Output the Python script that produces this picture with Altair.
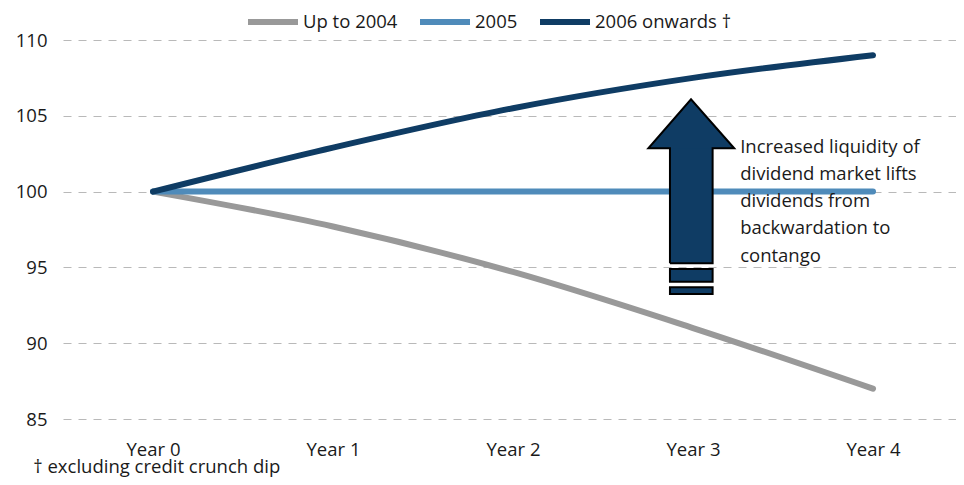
import json
import altair as alt
import pandas as pd

# ---- data ----
years = [0, 1, 2, 3, 4]
year_labels = ["Year 0", "Year 1", "Year 2", "Year 3", "Year 4"]
series_names = ["Up to 2004", "2005", "2006 onwards †"]
up_to_2004 = [100, 97.7, 94.7, 91.0, 87.0]
y2005 = [100, 100, 100, 100, 100]
onwards_2006 = [100, 102.9, 105.5, 107.5, 109.0]
colors = ["#999999", "#4f8bba", "#0f3c64"]
y_ticks = [85, 90, 95, 100, 105, 110]

# arrow annotation, in data units (x = year, y = index)
arrow_x = [2.872, 2.872, 2.752, 2.989, 3.229, 3.109, 3.109, 2.872]
arrow_y = [95.27, 102.86, 102.86, 106.09, 102.86, 102.86, 95.27, 95.27]
head_x = [2.752, 2.989, 3.229]
head_lo = [102.86, 102.86, 102.86]
head_hi = [102.86, 106.09, 102.86]
shaft_x = [2.872, 3.109]
shaft_y = [95.27, 102.90]
bar_x = [2.872, 3.109]
bar_lo = [94.06, 93.25]
bar_hi = [94.89, 93.69]
note_x = 3.262
note_y = 102.96
note_lines = ["Increased liquidity of", "dividend market lifts", "dividends from",
              "backwardation to", "contango"]
footnote = "† excluding credit crunch dip"

FONT = "Open Sans"
FS = 18.5
NAVY = "#0f3c64"
TXT = "#1a1a1a"

# ---- tables ----
rows = []
for name, vals in zip(series_names, [up_to_2004, y2005, onwards_2006]):
    for yr, v in zip(years, vals):
        rows.append({"year": yr, "value": v, "series": name})
df = pd.DataFrame(rows)

# the category spacing of the reference (180 px per year) runs slightly past the
# page edge, so the scale range is set wider than the clipped view
xscale = alt.Scale(domain=[-0.5, 4.5], range=[0, 900], nice=False, zero=False)
yscale = alt.Scale(domain=[85, 110], nice=False, zero=False)

lines = alt.Chart(df).mark_line(strokeWidth=6, strokeCap="round", strokeJoin="round",
                                interpolate="monotone").encode(
    x=alt.X("year:Q", scale=xscale,
            axis=alt.Axis(values=years, labelExpr=f"{json.dumps(year_labels)}[datum.value]",
                          grid=False, ticks=False, domain=False, title=None,
                          labelPadding=21, labelFontSize=FS, labelFont=FONT,
                          labelColor=TXT)),
    y=alt.Y("value:Q", scale=yscale,
            axis=alt.Axis(values=y_ticks, grid=True, gridDash=[8, 7], gridColor="#b9b9b9",
                          gridWidth=1.2, ticks=False, domain=False, title=None,
                          labelPadding=16, labelFontSize=FS, labelFont=FONT,
                          labelColor=TXT)),
    color=alt.Color("series:N",
                    scale=alt.Scale(domain=series_names, range=colors),
                    legend=alt.Legend(title=None, orient="none", direction="horizontal",
                                      legendX=182, legendY=-46, symbolType="stroke",
                                      symbolStrokeWidth=6, symbolSize=2500,
                                      labelFontSize=FS, labelFont=FONT, labelColor=TXT,
                                      labelOffset=2, columnPadding=10, padding=0)),
    detail="series:N",
)

shaft = alt.Chart(pd.DataFrame({"x": [shaft_x[0]], "x2": [shaft_x[1]],
                                "y": [shaft_y[0]], "y2": [shaft_y[1]]})).mark_rect(
    color=NAVY).encode(x=alt.X("x:Q", scale=xscale), x2="x2:Q",
                       y=alt.Y("y:Q", scale=yscale), y2="y2:Q")

head = alt.Chart(pd.DataFrame({"x": head_x, "lo": head_lo, "hi": head_hi})).mark_area(
    color=NAVY, opacity=1).encode(x=alt.X("x:Q", scale=xscale),
                                  y=alt.Y("lo:Q", scale=yscale), y2="hi:Q")

outline = alt.Chart(pd.DataFrame({"x": arrow_x, "y": arrow_y,
                                  "i": list(range(len(arrow_x)))})).mark_line(
    color="black", strokeWidth=2, strokeJoin="miter").encode(
    x=alt.X("x:Q", scale=xscale), y=alt.Y("y:Q", scale=yscale), order="i:Q")

bars = alt.Chart(pd.DataFrame({"x": [bar_x[0]] * 2, "x2": [bar_x[1]] * 2,
                               "y": bar_lo, "y2": bar_hi})).mark_rect(
    color=NAVY, stroke="black", strokeWidth=2).encode(
    x=alt.X("x:Q", scale=xscale), x2="x2:Q", y=alt.Y("y:Q", scale=yscale), y2="y2:Q")

note = alt.Chart(pd.DataFrame({"x": [note_x], "y": [note_y],
                               "t": ["\n".join(note_lines)]})).mark_text(
    align="left", baseline="middle", lineBreak="\n", lineHeight=27.2,
    fontSize=FS, font=FONT, color=TXT).encode(
    x=alt.X("x:Q", scale=xscale), y=alt.Y("y:Q", scale=yscale), text="t:N")

chart = alt.layer(lines, shaft, head, outline, bars, note).properties(
    width=893, height=379,
    autosize=alt.AutoSizeParams(type="none"),
    padding={"left": 55, "top": 32, "right": 0, "bottom": 58},
    title=alt.TitleParams(footnote, orient="bottom", anchor="start", fontSize=FS,
                          font=FONT, fontWeight="normal", color=TXT,
                          offset=-1, dx=18),
).configure_view(stroke=None)

chart.save("out.html", embed_options={"renderer": "svg", "actions": False})
